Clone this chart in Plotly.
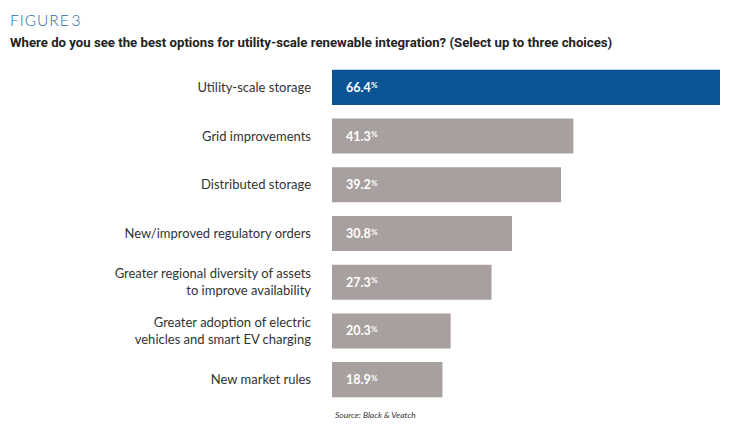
import plotly.graph_objects as go

categories = [
    "Utility-scale storage",
    "Grid improvements",
    "Distributed storage",
    "New/improved regulatory orders",
    "Greater regional diversity of assets<br>to improve availability",
    "Greater adoption of electric<br>vehicles and smart EV charging",
    "New market rules",
]
values = [66.4, 41.3, 39.2, 30.8, 27.3, 20.3, 18.9]
colors = ["#0b5595", "#a7a09e", "#a7a09e", "#a7a09e", "#a7a09e", "#a7a09e", "#a7a09e"]

FONT = "Lato"

# page body has an 8px margin -> compensate
W, H = 723, 422
L, T, B = 324, 55, 25.5
PW = 388
PH = H - T - B

fig = go.Figure(go.Bar(
    y=categories, x=values, orientation="h",
    marker=dict(color=colors, line=dict(width=0)),
    hoverinfo="skip",
))

for c, v in zip(categories, values):
    fig.add_annotation(
        x=0, y=c, xref="x", yref="y", xanchor="left", yanchor="middle",
        xshift=12, showarrow=False,
        text=f"{v:.1f}",
        font=dict(family=FONT, size=12.5, color="white", weight=700),
    )
    fig.add_annotation(
        x=0, y=c, xref="x", yref="y", xanchor="left", yanchor="middle",
        xshift=37, yshift=2, showarrow=False,
        text="%",
        font=dict(family=FONT, size=8, color="white", weight=700),
    )

fig.update_layout(
    width=W, height=H,
    margin=dict(l=L, r=W - L - PW, t=T, b=B, autoexpand=False),
    paper_bgcolor="white", plot_bgcolor="white",
    bargap=0.28,
    showlegend=False,
    xaxis=dict(range=[0, 66.4], visible=False, fixedrange=True),
    yaxis=dict(
        autorange="reversed", showgrid=False, zeroline=False, showline=False,
        ticks="", ticklabelstandoff=20, automargin=False,
        tickfont=dict(family=FONT, size=13, color="#333333"),
    ),
)

def px_x(x):
    return (x - L) / PW

def px_y(y):
    return (H - B - y) / PH

fig.add_annotation(
    xref="paper", yref="paper", x=px_x(0), y=px_y(12),
    xanchor="left", yanchor="middle", showarrow=False,
    text="F\u200aI\u200aG\u200aU\u200aR\u200aE\u2009\u200a3",
    font=dict(family=FONT, size=15.5, color="#2a6ba8", weight=300),
)
fig.add_annotation(
    xref="paper", yref="paper", x=px_x(0), y=px_y(34),
    xanchor="left", yanchor="middle", showarrow=False,
    text="Where do you see the best options for utility-scale renewable integration? (Select up to three choices)",
    font=dict(family="Roboto", size=13.2, color="#222222", weight=700),
)
fig.add_annotation(
    xref="paper", yref="paper", x=px_x(325), y=px_y(408),
    xanchor="left", yanchor="middle", showarrow=False,
    text="Source: Black & Veatch",
    font=dict(family=FONT, size=8.5, color="#333333", style="italic"),
)

fig.write_html("out.html")
